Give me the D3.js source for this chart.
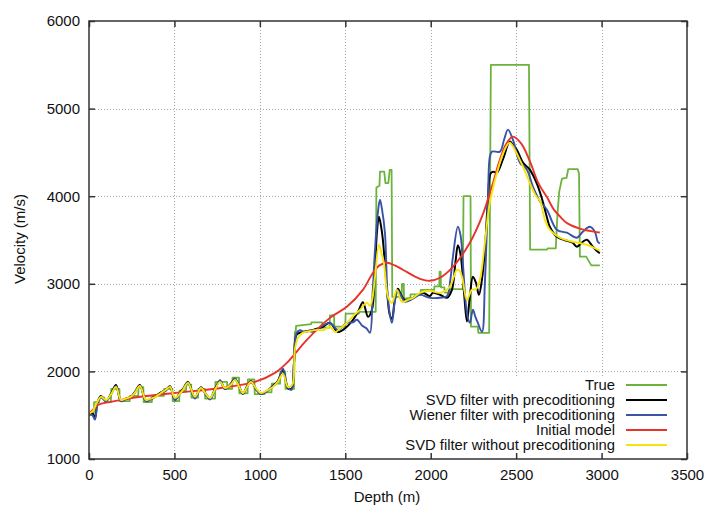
<!DOCTYPE html>
<html>
<head>
<meta charset="utf-8">
<script src="https://cdn.jsdelivr.net/npm/d3@7"></script>
<style>
  html, body { margin: 0; padding: 0; background: #fff; }
  svg { display: block; font-family: "Liberation Sans", Arial, Helvetica, sans-serif; }
</style>
</head>
<body>
<svg id="chart" width="706" height="505"></svg>
<script>
// ---- Axis ticks ----
const xTicks = [0, 500, 1000, 1500, 2000, 2500, 3000, 3500];
const yTicks = [1000, 2000, 3000, 4000, 5000, 6000];

// ---- True velocity model (blocky) ----
const trueDepth = [0, 28, 30, 60, 62, 90, 92, 128, 130, 178, 180, 238, 240, 288, 290, 318, 320, 368, 370, 438, 440, 488, 490, 528, 530, 568, 570, 598, 600, 638, 640, 678, 680, 738, 740, 808, 810, 838, 840, 878, 880, 928, 930, 968, 970, 1028, 1030, 1068, 1070, 1118, 1120, 1148, 1150, 1200,
  1205, 1210, 1212, 1300, 1302, 1365, 1367, 1408, 1410, 1434, 1436, 1500, 1502, 1580, 1582, 1678, 1682, 1700, 1703, 1728, 1735, 1752, 1760, 1771, 1775,
  1830, 1832, 1842, 1844, 1880, 1882, 1940, 1942, 2020, 2022, 2050, 2052, 2058, 2060, 2080, 2082, 2110, 2112, 2188, 2192, 2233, 2236, 2276, 2279, 2342, 2352, 2575, 2582,
  2680, 2684, 2732, 2742, 2752, 2768, 2795, 2805, 2860, 2868, 2873, 2910, 2940, 2990];
const trueVel = [1500, 1500, 1650, 1650, 1700, 1700, 1650, 1650, 1800, 1800, 1660, 1660, 1720, 1720, 1820, 1820, 1650, 1650, 1720, 1720, 1800, 1800, 1660, 1660, 1780, 1780, 1850, 1850, 1700, 1700, 1800, 1800, 1690, 1690, 1880, 1880, 1800, 1800, 1930, 1930, 1750, 1750, 1910, 1910, 1740, 1740, 1760, 1760, 1860, 1860, 2000, 2000, 1800, 1800,
  2450, 2450, 2520, 2540, 2560, 2560, 2500, 2500, 2640, 2640, 2510, 2510, 2660, 2660, 2680, 2680, 4100, 4120, 4280, 4280, 4150, 4150, 4300, 4300, 2850,
  2850, 3000, 3000, 2830, 2840, 2880, 2880, 2930, 2930, 2970, 2970, 3140, 3140, 2960, 2960, 2900, 2900, 2940, 2940, 4000, 4000, 2510, 2510, 2440, 2440, 5500, 5500, 3390,
  3390, 3405, 3405, 3800, 4050, 4200, 4210, 4310, 4310, 4260, 3310, 3310, 3210, 3210];

// ---- SVD filter with preconditioning ----
const svdPreDepth = [0, 20, 35, 50, 70, 100, 130, 158, 187, 215, 245, 270, 298, 333, 362, 392, 421, 450, 474, 503, 530, 550, 579, 620, 655, 685, 708, 740, 767, 796, 830, 854, 880, 901, 925, 948, 980, 1006, 1040, 1077, 1105, 1135, 1164, 1185, 1200, 1215,
  1250, 1311, 1340, 1369, 1410, 1457, 1509, 1545, 1575, 1603, 1633, 1656, 1672, 1685, 1697, 1710, 1720, 1744, 1760, 1773, 1790, 1808, 1825, 1850, 1896, 1954, 1995, 2013, 2060, 2095, 2124, 2145, 2159, 2175, 2195, 2212, 2229, 2247, 2265, 2282, 2300, 2317, 2335, 2350, 2365, 2387, 2422, 2463, 2480, 2504, 2540, 2580, 2620, 2650, 2680, 2697, 2738, 2797, 2830, 2855, 2890, 2914, 2949, 2978, 2990];
const svdPreVel = [1520, 1520, 1470, 1650, 1720, 1665, 1750, 1845, 1665, 1690, 1710, 1770, 1845, 1665, 1690, 1720, 1760, 1790, 1830, 1680, 1750, 1800, 1880, 1700, 1820, 1740, 1690, 1810, 1890, 1800, 1860, 1915, 1820, 1745, 1830, 1890, 1790, 1745, 1775, 1835, 1890, 2010, 1810, 1800, 2100, 2420,
  2450, 2474, 2490, 2509, 2554, 2451, 2509, 2589, 2680, 2790, 2623, 2703, 3100, 3583, 3766, 3650, 3503, 2931, 2650, 2600, 2817, 2943, 2880, 2810, 2840, 2897, 2860, 2897, 2870, 2840, 2931, 3250, 3440, 3330, 2900, 2570, 2851, 3080, 3011, 2874, 3050, 3389, 3960, 4260, 4280, 4269, 4417, 4623, 4590, 4531, 4383, 4303, 4150, 3980, 3760, 3651, 3537, 3491, 3470, 3423, 3480, 3503, 3423, 3366, 3350];

// ---- Wiener filter with preconditioning ----
const wienerDepth = [0, 20, 35, 50, 70, 100, 130, 158, 187, 215, 245, 270, 298, 333, 362, 392, 421, 450, 474, 503, 530, 550, 579, 620, 655, 685, 708, 740, 767, 796, 830, 854, 880, 901, 925, 948, 980, 1006, 1040, 1077, 1105, 1135, 1164, 1185, 1200, 1215,
  1235, 1260, 1290, 1311, 1350, 1410, 1457, 1509, 1545, 1568, 1600, 1625, 1644, 1660, 1674, 1690, 1703, 1715, 1732, 1750, 1773, 1790, 1808, 1825, 1849, 1896, 1937, 1995, 2054, 2095, 2115, 2130, 2159, 2175, 2188, 2212, 2229, 2247, 2262, 2276, 2300, 2317, 2335, 2346, 2358, 2405, 2430, 2452, 2481, 2522, 2563, 2598, 2640, 2680, 2738, 2797, 2855, 2890, 2931, 2961, 2978, 2990];
const wienerVel = [1510, 1500, 1450, 1640, 1700, 1660, 1740, 1830, 1660, 1680, 1700, 1760, 1835, 1660, 1680, 1715, 1750, 1780, 1820, 1670, 1740, 1790, 1870, 1690, 1810, 1730, 1680, 1800, 1900, 1800, 1850, 1920, 1830, 1740, 1820, 1890, 1790, 1740, 1770, 1830, 1880, 2030, 1820, 1790, 2100, 2440,
  2470, 2451, 2460, 2451, 2500, 2554, 2474, 2554, 2560, 2589, 2520, 2490, 2440, 2900, 3389, 3800, 3960, 3850, 3583, 2817, 2554, 2800, 2920, 2870, 2794, 2830, 2874, 2840, 2840, 2860, 3050, 3309, 3651, 3550, 3240, 2669, 2554, 2703, 2620, 2554, 2451, 3011, 3960, 4451, 4509, 4509, 4650, 4760, 4646, 4383, 4303, 4109, 3940, 3846, 3617, 3583, 3526, 3594, 3651, 3594, 3480, 3460];

// ---- Initial model ----
const initDepth = [0, 53, 120, 187, 300, 503, 772, 971, 1088, 1164, 1275, 1410, 1509, 1603, 1662, 1700, 1744, 1790, 1837, 1937, 1995, 2054, 2130, 2229, 2300, 2358, 2405, 2440, 2481, 2530, 2580, 2630, 2680, 2720, 2756, 2800, 2873, 2980, 2990];
const initVel = [1510, 1617, 1650, 1674, 1710, 1754, 1811, 1880, 1983, 2109, 2360, 2611, 2737, 2931, 3126, 3210, 3240, 3210, 3160, 3057, 3034, 3069, 3194, 3469, 3766, 4109, 4417, 4590, 4680, 4600, 4400, 4150, 3990, 3850, 3769, 3690, 3630, 3587, 3585];

// ---- SVD filter without preconditioning ----
const svdNoDepth = [0, 20, 40, 70, 100, 130, 158, 187, 215, 245, 270, 298, 333, 362, 392, 421, 450, 474, 503, 530, 550, 579, 620, 655, 685, 708, 740, 767, 796, 830, 854, 880, 901, 925, 948, 980, 1006, 1040, 1077, 1105, 1135, 1164, 1190, 1205, 1223,
  1250, 1290, 1334, 1370, 1410, 1440, 1470, 1509, 1550, 1586, 1610, 1627, 1645, 1660, 1674, 1697, 1712, 1726, 1750, 1773, 1802, 1831, 1870, 1896, 1937, 1995, 2054, 2112, 2135, 2153, 2168, 2183, 2212, 2241, 2265, 2288, 2317, 2346, 2405, 2440, 2463, 2500, 2540, 2580, 2620, 2639, 2670, 2697, 2756, 2832, 2914, 2978, 2990];
const svdNoVel = [1520, 1540, 1620, 1710, 1674, 1740, 1823, 1674, 1690, 1710, 1760, 1834, 1674, 1690, 1710, 1754, 1790, 1823, 1697, 1740, 1789, 1869, 1710, 1811, 1740, 1697, 1800, 1880, 1811, 1850, 1903, 1820, 1754, 1820, 1880, 1800, 1754, 1780, 1823, 1880, 1970, 1823, 1850, 2250, 2383,
  2440, 2460, 2474, 2470, 2509, 2450, 2490, 2554, 2640, 2703, 2760, 2783, 2750, 2850, 3080, 3446, 3350, 3240, 2851, 2783, 2931, 2794, 2820, 2840, 2897, 2920, 2897, 2966, 3080, 3160, 3150, 3080, 2817, 2931, 2940, 3046, 3469, 3926, 4383, 4560, 4611, 4500, 4337, 4150, 3990, 3950, 3720, 3617, 3526, 3480, 3446, 3389, 3380];

const seriesNames = ["True", "SVD filter with precoditioning", "Wiener filter with precoditioning", "Initial model", "SVD filter without precoditioning"];
const seriesColors = ["#6cb33e", "#000000", "#3a53a4", "#e8332a", "#f7e40c"];

const zip = (xs, ys) => xs.map((v, i) => [v, ys[i]]);
const series = [
  { name: seriesNames[0], color: seriesColors[0], pts: zip(trueDepth, trueVel), smooth: false, w: 1.8 },
  { name: seriesNames[1], color: seriesColors[1], pts: zip(svdPreDepth, svdPreVel), smooth: true, w: 2 },
  { name: seriesNames[2], color: seriesColors[2], pts: zip(wienerDepth, wienerVel), smooth: true, w: 1.9 },
  { name: seriesNames[3], color: seriesColors[3], pts: zip(initDepth, initVel), smooth: true, w: 1.9 },
  { name: seriesNames[4], color: seriesColors[4], pts: zip(svdNoDepth, svdNoVel), smooth: true, w: 1.9 }
];

// ---- Layout ----
const margin = { left: 89, top: 21, right: 19, bottom: 46 };
const W = 706, H = 505;
const iw = W - margin.left - margin.right;
const ih = H - margin.top - margin.bottom;

const svg = d3.select("#chart");
const g = svg.append("g").attr("transform", `translate(${margin.left},${margin.top})`);

const xScale = d3.scaleLinear().domain([0, 3500]).range([0, iw]);
const yScale = d3.scaleLinear().domain([1000, 6000]).range([ih, 0]);

// Dotted grid
const grid = g.append("g").attr("stroke", "#a8a8a8").attr("stroke-width", 1).attr("stroke-dasharray", "1,2");
grid.selectAll("line.gx").data(xTicks.slice(1, -1)).join("line")
  .attr("x1", d => Math.round(xScale(d)) + 0.5).attr("x2", d => Math.round(xScale(d)) + 0.5)
  .attr("y1", 0).attr("y2", ih);
grid.selectAll("line.gy").data(yTicks.slice(1, -1)).join("line")
  .attr("y1", d => Math.round(yScale(d)) + 0.5).attr("y2", d => Math.round(yScale(d)) + 0.5)
  .attr("x1", 0).attr("x2", iw);

// Curves
g.append("clipPath").attr("id", "plotclip").append("rect").attr("width", iw).attr("height", ih);
const curves = g.append("g").attr("clip-path", "url(#plotclip)");
series.forEach(s => {
  const line = d3.line().x(d => xScale(d[0])).y(d => yScale(d[1]))
    .curve(s.smooth ? d3.curveCatmullRom.alpha(0.5) : d3.curveLinear);
  curves.append("path").datum(s.pts)
    .attr("fill", "none").attr("stroke", s.color).attr("stroke-width", s.w)
    .attr("stroke-linejoin", "round").attr("d", line);
});

// Key box (clears the grid behind it)
const keyRight = 615 - margin.left;
const keyRowY = i => 385 - margin.top + i * 15;
g.append("rect").attr("x", 395 - margin.left).attr("y", 376 - margin.top)
  .attr("width", iw - (395 - margin.left) - 1).attr("height", ih - (376 - margin.top) - 1)
  .attr("fill", "#fff");
const key = g.append("g");
series.forEach((s, i) => {
  key.append("text").attr("x", keyRight).attr("y", keyRowY(i) + 5.2)
    .attr("text-anchor", "end").attr("font-size", 14.8).attr("fill", "#111").text(s.name);
  key.append("line").attr("x1", 626 - margin.left).attr("x2", 667 - margin.left)
    .attr("y1", keyRowY(i)).attr("y2", keyRowY(i))
    .attr("stroke", s.color).attr("stroke-width", 2);
});

// Axes: bottom/left carry labels, top/right mirror the ticks; all ticks point inward
const tickLen = 6;
const axisColor = "#333";
const axisB = g.append("g").attr("transform", `translate(0,${ih})`)
  .call(d3.axisBottom(xScale).tickValues(xTicks).tickSize(-tickLen).tickPadding(10).tickFormat(d3.format("d")));
const axisL = g.append("g")
  .call(d3.axisLeft(yScale).tickValues(yTicks).tickSize(-tickLen).tickPadding(9).tickFormat(d3.format("d")));
const axisT = g.append("g")
  .call(d3.axisTop(xScale).tickValues(xTicks).tickSize(-tickLen).tickFormat(""));
const axisR = g.append("g").attr("transform", `translate(${iw},0)`)
  .call(d3.axisRight(yScale).tickValues(yTicks).tickSize(-tickLen).tickFormat(""));
[axisB, axisL, axisT, axisR].forEach(a => {
  a.select(".domain").remove();
  a.selectAll(".tick line").attr("stroke", axisColor).attr("stroke-width", 1.5);
  a.selectAll(".tick text").attr("font-size", 15).attr("fill", "#111")
    .attr("font-family", "Liberation Sans, Arial, sans-serif");
});

// Frame
g.append("rect").attr("x", 0).attr("y", 0).attr("width", iw).attr("height", ih)
  .attr("fill", "none").attr("stroke", axisColor).attr("stroke-width", 1.5);

// Axis titles
svg.append("text").attr("x", margin.left + iw / 2 - 1).attr("y", 502)
  .attr("text-anchor", "middle").attr("font-size", 15).attr("fill", "#111").text("Depth (m)");
svg.append("text").attr("transform", `translate(25,${margin.top + ih / 2 - 1}) rotate(-90)`)
  .attr("text-anchor", "middle").attr("font-size", 15).attr("fill", "#111").text("Velocity (m/s)");
</script>
</body>
</html>
